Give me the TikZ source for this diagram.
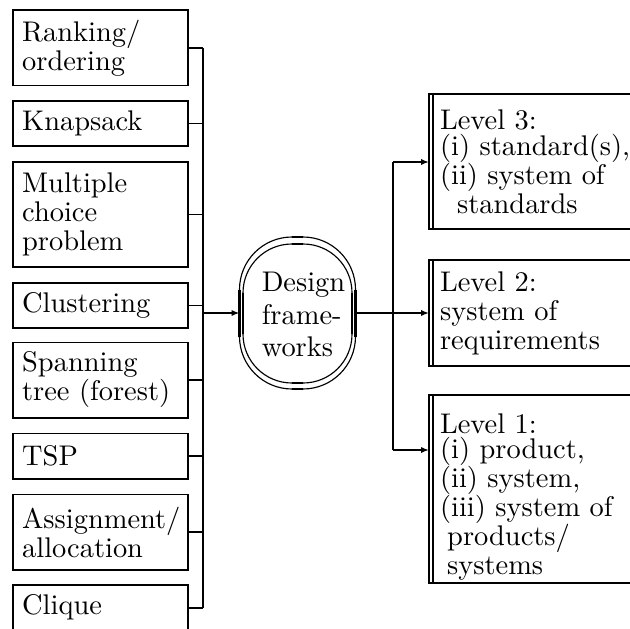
\documentclass[tikz,border=0pt]{standalone}
\usetikzlibrary{arrows.meta}
\begin{document}
\begin{tikzpicture}[x=0.3517pt,y=-0.3517pt,
  every node/.style={font=\fontsize{10}{10.2}\selectfont},
  taskbox/.style={draw, line width=0.7pt, rectangle, outer sep=0pt,
    minimum width=61.5pt, text width=55.1pt, inner xsep=3.2pt, inner ysep=0pt, align=left},
  levelbox/.style={draw, line width=0.7pt, rectangle, outer sep=0pt, anchor=west,
    minimum width=88pt, text width=80.2pt, inner xsep=3.9pt, inner ysep=0pt, align=left},
  one/.style={minimum height=15.83pt},
  two/.style={minimum height=26.38pt},
  three/.style={minimum height=36.93pt},
  link/.style={line width=0.7pt},
  feed/.style={link, -{Latex[length=2.8pt,width=2.2pt]}},
  thinoval/.style={line width=0.4pt},
  thickside/.style={line width=0.8pt}
]
\useasboundingbox (0,0) rectangle (630,628);
\clip (0,0) rectangle (630,628);

% problem boxes on the left
\node[taskbox,two]   (b1) at (100.5,48)    {Ranking/\\ordering};
\node[taskbox,one]   (b2) at (100.5,123.5) {Knapsack};
\node[taskbox,three] (b3) at (100.5,214.5) {Multiple\\choice\\problem};
\node[taskbox,one]   (b4) at (100.5,305.5) {Clustering};
\node[taskbox,two]   (b5) at (100.5,380)   {Spanning\\tree (forest)};
\node[taskbox,one]   (b6) at (100.5,456)   {TSP};
\node[taskbox,two]   (b7) at (100.5,532)   {Assignment/\\allocation};
\node[taskbox,one]   (b8) at (100.5,607.5) {Clique};

% left collecting bus
\coordinate (lbusTop) at (203,48);
\coordinate (lbusBot) at (203,607.5);
\coordinate (lhub) at (203,313);
\draw[link] (lbusTop) -- (lbusBot);
\foreach \b in {b1,b2,b3,b4,b5,b6,b7,b8}
  \draw[link] (\b.east) -- (\b.east -| lbusTop);

% central double oval
\node[minimum width=40.8pt, minimum height=53.46pt, outer sep=0pt, inner sep=0pt] (design) at (297.5,313) {};
\draw[thinoval, rounded corners=18.46pt] (239.5,237) rectangle (355.5,389);
\draw[thinoval, rounded corners=17.2pt] (243,244) rectangle (352,383);
\draw[thickside] (239.5,289.5) -- (239.5,336.5) (355.5,289.5) -- (355.5,336.5)
                 (292,237) -- (303,237) (292,389) -- (303,389);
\draw[thickside] (243,293) -- (243,334) (352,293) -- (352,334)
                 (292,244) -- (303,244) (292,383) -- (303,383);
\node[align=left, inner sep=0pt, font=\fontsize{10}{11.4}\selectfont] (designtext) at (303.5,314.5) {Design\\frame-\\works};

\draw[feed] (lhub) -- (design.west);

% level boxes on the right
\node[levelbox, minimum height=47.5pt] (L3) at (429,161.5)
  {Level 3:\\[-1pt](i) standard(s),\\(ii) system of\\\hspace*{6pt}standards};
\node[levelbox, minimum height=37.3pt] (L2) at (429,313)
  {Level 2:\\system of\\requirements};
\node[levelbox, minimum height=66.1pt] (L1) at (429,489)
  {\rule{0pt}{12.5pt}Level 1:\\[-1.5pt](i) product,\\(ii) system,\\(iii) system of\\\hspace*{2.5pt}products/\\\hspace*{2.5pt}systems};
\foreach \L in {L3,L2,L1}
  \draw[line width=0.4pt] ([xshift=1.4pt]\L.north west) -- ([xshift=1.4pt]\L.south west);

% right distribution bus
\coordinate (rbusTop) at (393,162);
\coordinate (rbusBot) at (393,450);
\draw[link] (rbusTop) -- (rbusBot);
\draw[feed] (design.east) -- (L2.west);
\draw[feed] (rbusTop) -- (rbusTop -| L3.west);
\draw[feed] (rbusBot) -- (rbusBot -| L1.west);
\end{tikzpicture}
\end{document}
